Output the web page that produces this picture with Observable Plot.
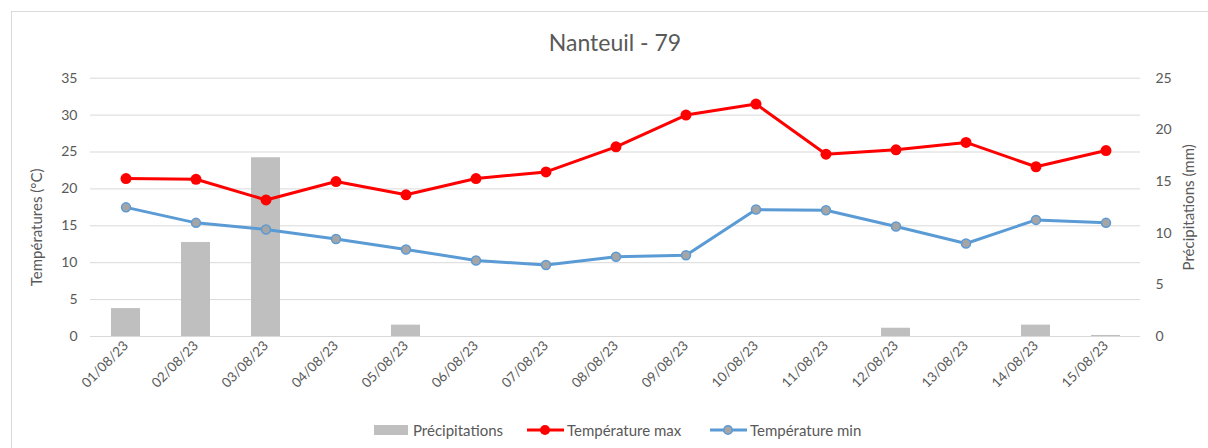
<!DOCTYPE html>
<html><head><meta charset="utf-8">
<script src="https://cdn.jsdelivr.net/npm/d3@7"></script>
<script src="https://cdn.jsdelivr.net/npm/@observablehq/plot@0.6"></script>
<style>
body{margin:0;background:#fff;font-family:Lato,"Open Sans",sans-serif;color:#595959;}
#wrap{position:relative;width:1208px;height:448px;overflow:hidden;}
#frame{position:absolute;left:11px;top:11px;width:1210px;height:450px;border:1px solid #d9d9d9;box-sizing:border-box;}
#title{position:absolute;left:0;width:1230px;top:28px;text-align:center;font-size:23px;color:#595959;}
#chart{position:absolute;left:0;top:60px;}
#legend{position:absolute;top:420px;left:0;width:1208px;height:20px;font-size:15px;color:#595959;}
.li{position:absolute;top:0;display:flex;align-items:center;height:20px;white-space:nowrap;}
</style></head>
<body>
<div id="wrap">
<div id="frame"></div>
<div id="title">Nanteuil - 79</div>
<div id="chart"></div>
<div id="legend">
  <div class="li" style="left:374px"><svg width="39" height="12"><rect x="0" y="1" width="34" height="10" fill="#bfbfbf"/></svg><span>Précipitations</span></div>
  <div class="li" style="left:527px"><svg width="40" height="12"><line x1="0" x2="37" y1="6" y2="6" stroke="#ff0000" stroke-width="3"/><circle cx="18" cy="6" r="5" fill="#ff0000"/></svg><span>Température max</span></div>
  <div class="li" style="left:710px"><svg width="40" height="12"><line x1="0" x2="37" y1="6" y2="6" stroke="#5b9bd5" stroke-width="3"/><circle cx="18" cy="6" r="4.3" fill="#a5a5a5" stroke="#5b9bd5" stroke-width="1.5"/></svg><span>Température min</span></div>
</div>
</div>
<script>
const dates = ["01/08/23","02/08/23","03/08/23","04/08/23","05/08/23","06/08/23","07/08/23","08/08/23","09/08/23","10/08/23","11/08/23","12/08/23","13/08/23","14/08/23","15/08/23"];
const tempMax = [21.4,21.3,18.5,21.0,19.2,21.4,22.3,25.7,30.0,31.5,24.7,25.3,26.3,23.0,25.2];
const tempMin = [17.5,15.4,14.5,13.2,11.8,10.3,9.7,10.8,11.0,17.2,17.1,14.9,12.6,15.8,15.4];
const precip = [2.7,9.1,17.3,0,1.1,0,0,0,0,0,0,0.8,0,1.1,0.1];
const leftTicks = [0,5,10,15,20,25,30,35];
const rightTicks = [0,5,10,15,20,25];
const leftLabel = "Températures (°C)";
const rightLabel = "Précipitations (mm)";

const ratio = 35/25;
const rows = dates.map((d,i)=>({date:d, tmax:tempMax[i], tmin:tempMin[i], precip:precip[i]}));

const chart = Plot.plot({
  width: 1208,
  height: 350,
  marginTop: 17.7,
  marginBottom: 74,
  marginLeft: 90,
  marginRight: 68,
  style: {fontFamily: "Lato, 'Open Sans', sans-serif", fontSize: "13px", color: "#595959", background: "transparent"},
  x: {type: "band", domain: dates, paddingInner: 0.59, paddingOuter: 0.295},
  y: {domain: [0, 35]},
  marks: [
    Plot.ruleY(leftTicks, {stroke: "#d9d9d9", strokeWidth: 1}),
    Plot.barY(rows, {x: "date", y: d => d.precip*ratio, fill: "#bfbfbf"}),
    Plot.line(rows, {x: "date", y: "tmax", stroke: "#ff0000", strokeWidth: 3}),
    Plot.dot(rows, {x: "date", y: "tmax", r: 5.5, fill: "#ff0000"}),
    Plot.line(rows, {x: "date", y: "tmin", stroke: "#5b9bd5", strokeWidth: 3}),
    Plot.dot(rows, {x: "date", y: "tmin", r: 4.5, fill: "#a5a5a5", stroke: "#5b9bd5", strokeWidth: 1.5}),
    Plot.axisY({ticks: leftTicks, tickSize: 0, tickPadding: 13, label: null, fill: "#595959", fontSize: 14}),
    Plot.axisY({anchor: "right", ticks: rightTicks.map(v => v*ratio), tickFormat: d => String(Math.round(d/ratio)), tickSize: 0, tickPadding: 15, label: null, fill: "#595959", fontSize: 14}),
    Plot.axisX({tickRotate: -45, tickSize: 0, tickPadding: 7, label: null, fill: "#595959", fontSize: 13.5}),
    Plot.text([leftLabel], {frameAnchor: "left", textAnchor: "middle", dx: -53, dy: 20, rotate: -90, fill: "#595959", fontSize: 15}),
    Plot.text([rightLabel], {frameAnchor: "right", textAnchor: "middle", dx: 49, rotate: -90, fill: "#595959", fontSize: 15})
  ]
});
document.getElementById("chart").appendChild(chart);
</script>
</body></html>
